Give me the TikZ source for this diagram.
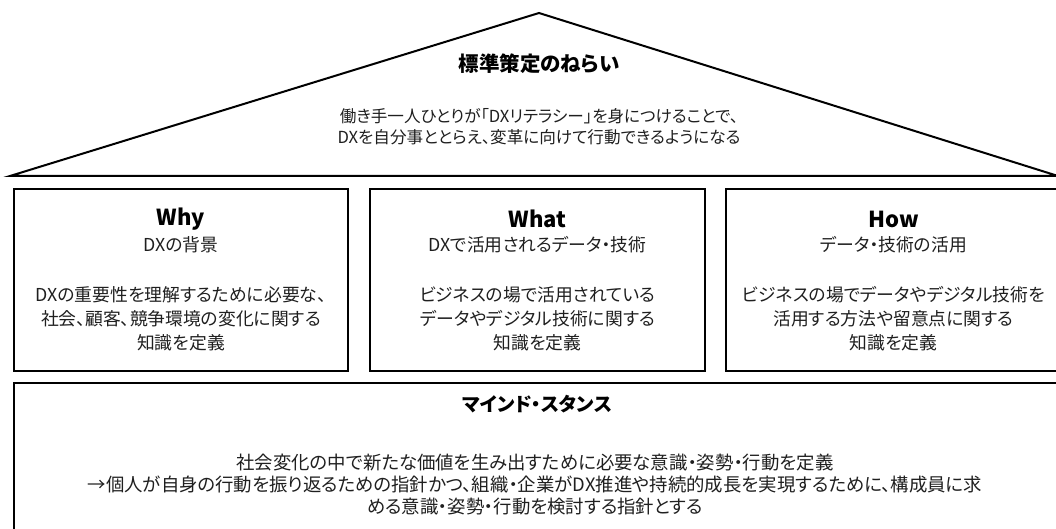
\documentclass[tikz,border=0pt]{standalone}
\usepackage{fontspec}
\setmainfont{Noto Sans CJK JP}[RawFeature=+palt]
\newfontfamily\jp{Noto Sans CJK JP}[RawFeature=+palt]
\begin{document}
\begin{tikzpicture}[x=1pt,y=-1pt,
  frame/.style={draw=black, line width=2.6pt, inner sep=0pt},
  roofline/.style={draw=black, line width=2pt, line join=miter},
  ttl/.style={inner sep=0pt, align=center, font=\jp\bfseries\fontsize{20.5}{24}\selectfont},
  wtl/.style={inner sep=0pt, align=center, font=\jp\bfseries\fontsize{22}{24}\selectfont},
  sub/.style={inner sep=0pt, align=center, font=\jp\fontsize{17.8}{22}\selectfont, text=black!88},
  body/.style={inner sep=0pt, align=center, font=\jp\fontsize{17.8}{24}\selectfont, text=black!88},
  rbody/.style={inner sep=0pt, align=center, font=\jp\fontsize{16.6}{21}\selectfont, text=black!88},
  mbody/.style={inner sep=0pt, align=center, font=\jp\fontsize{18.4}{22}\selectfont, text=black!88}]
\useasboundingbox (0,0) rectangle (1056,529);
\clip (0,0) rectangle (1056,529);
% roof
\coordinate (rl) at (10,176);
\coordinate (ra) at (539,13);
\coordinate (rr) at (1058,176);
\draw[roofline] (rl) -- (ra) -- (rr) -- cycle;
\node[ttl] (roofT) at (539,64) {標準策定のねらい};
\node[rbody] (roofB) at (539,127) {働き手一人ひとりが「DXリテラシー」を身につけることで、\\DXを自分事ととらえ、変革に向けて行動できるようになる};
% pillars
\node[frame, minimum width=334pt, minimum height=182pt] (why) at (181,280) {};
\node[frame, minimum width=335pt, minimum height=182pt] (what) at (537.5,280) {};
\node[frame, minimum width=335pt, minimum height=182pt] (how) at (893.5,280) {};
\node[wtl] (whyT) at (181,219) {Why};
\node[sub] (whyS) at (181,245) {DXの背景};
\node[body] (whyB) at (181,319) {DXの重要性を理解するために必要な、\\社会、顧客、競争環境の変化に関する\\知識を定義};
\node[wtl] (whatT) at (537.5,219) {What};
\node[sub] (whatS) at (537.5,245) {DXで活用されるデータ・技術};
\node[body] (whatB) at (537.5,319) {ビジネスの場で活用されている\\データやデジタル技術に関する\\知識を定義};
\node[wtl] (howT) at (893.5,219) {How};
\node[sub] (howS) at (893.5,245) {データ・技術の活用};
\node[body] (howB) at (893.5,319) {ビジネスの場でデータやデジタル技術を\\活用する方法や留意点に関する\\知識を定義};
% base
\node[frame, minimum width=1047pt, minimum height=180pt] (mind) at (537.5,473) {};
\node[ttl, font=\jp\bfseries\fontsize{19.2}{22}\selectfont] (mindT) at (537,404) {マインド・スタンス};
\node[mbody] (mindB) at (535,485) {社会変化の中で新たな価値を生み出すために必要な意識・姿勢・行動を定義\\→個人が自身の行動を振り返るための指針かつ、組織・企業がDX推進や持続的成長を実現するために、構成員に求\\める意識・姿勢・行動を検討する指針とする};
\end{tikzpicture}
\end{document}
